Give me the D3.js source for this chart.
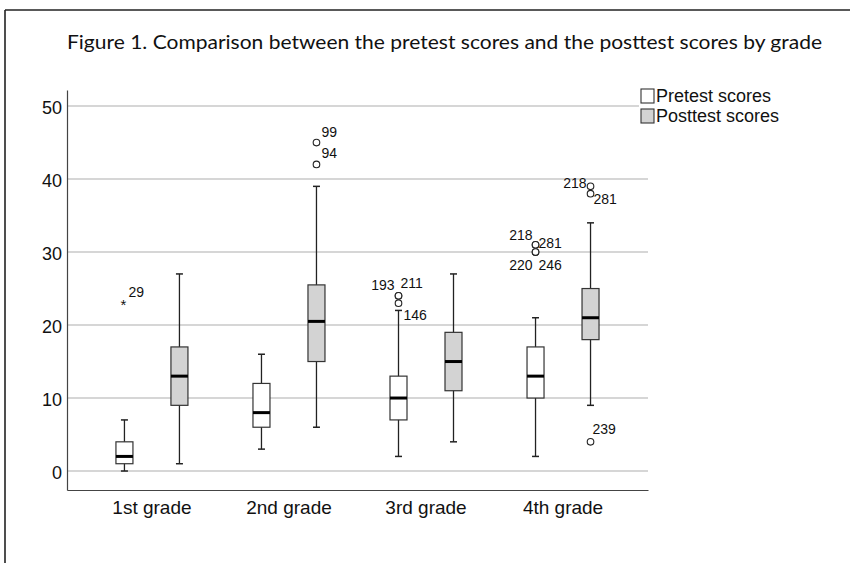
<!DOCTYPE html>
<html>
<head>
<meta charset="utf-8">
<script src="https://cdn.jsdelivr.net/npm/d3@7"></script>
<style>
  body { margin: 0; background: #fff; }
  text { font-family: "Liberation Sans", Arial, sans-serif; fill: #111; }
</style>
</head>
<body>
<svg id="chart" width="850" height="563"></svg>
<script>
// data
let grades = ["1st grade", "2nd grade", "3rd grade", "4th grade"];
let seriesNames = ["Pretest scores", "Posttest scores"];
let yTicks = [0, 10, 20, 30, 40, 50];

// pretest five-number summaries (whisker low, Q1, median, Q3, whisker high)
let preLow  = [0, 3, 2, 2];
let preQ1   = [1, 6, 7, 10];
let preMed  = [2, 8, 10, 13];
let preQ3   = [4, 12, 13, 17];
let preHigh = [7, 16, 22, 21];

// posttest
let postLow  = [1, 6, 4, 9];
let postQ1   = [9, 15, 11, 18];
let postMed  = [13, 20.5, 15, 21];
let postQ3   = [17, 25.5, 19, 25];
let postHigh = [27, 39, 27, 34];

// outliers: grade, series, value, case id, kind
let outGrade  = ["1st grade", "2nd grade", "2nd grade", "3rd grade", "3rd grade", "3rd grade", "4th grade", "4th grade", "4th grade", "4th grade", "4th grade", "4th grade", "4th grade"];
let outSeries = ["Pretest scores", "Posttest scores", "Posttest scores", "Pretest scores", "Pretest scores", "Pretest scores", "Pretest scores", "Pretest scores", "Pretest scores", "Pretest scores", "Posttest scores", "Posttest scores", "Posttest scores"];
let outValue  = [23, 45, 42, 24, 24, 23, 31, 31, 30, 30, 39, 38, 4];
let outId     = ["29", "99", "94", "193", "211", "146", "218", "281", "220", "246", "218", "281", "239"];
let outKind   = ["extreme", "o", "o", "o", "o", "o", "o", "o", "o", "o", "o", "o", "o"];

// label placement around the marker (style only)
let labelPlace = [
  [4, -6, "start"], [5, -6, "start"], [5, -6, "start"],
  [-4, -6, "end"], [2, -8, "start"], [5, 17, "start"],
  [-3, -5, "end"], [3, 3, "start"], [-3, 18, "end"], [3, 18, "start"],
  [-4, 2, "end"], [3, 10, "start"], [2, -8, "start"]
];

let svg = d3.select("#chart");

// frame of the figure
svg.append("line").attr("x1", 5).attr("x2", 850).attr("y1", 10).attr("y2", 10)
   .attr("stroke", "#222").attr("stroke-width", 1.6);
svg.append("line").attr("x1", 5).attr("x2", 5).attr("y1", 10).attr("y2", 563)
   .attr("stroke", "#222").attr("stroke-width", 1.6);

svg.append("text")
   .attr("x", 67).attr("y", 49)
   .attr("textLength", 755).attr("lengthAdjust", "spacingAndGlyphs")
   .style("font-family", "Lato, 'Open Sans', sans-serif")
   .style("font-size", "20px")
   .text("Figure 1. Comparison between the pretest scores and the posttest scores by grade");

let left = 67, right = 648;
let x = d3.scaleBand().domain(grades).range([left, right]).paddingInner(0).paddingOuter(0.12);
let xs = d3.scalePoint().domain(seriesNames).range([41, 96]);
let y = d3.scaleLinear().domain([-2.6, 52.2]).range([490, 90]);

// gridlines
svg.append("g").selectAll("line").data(yTicks).enter().append("line")
   .attr("x1", left).attr("x2", right)
   .attr("y1", d => y(d)).attr("y2", d => y(d))
   .attr("stroke", "#c9c9c9").attr("stroke-width", 1.5);

// axes
let yAxis = d3.axisLeft(y).tickValues(yTicks).tickSize(0).tickPadding(5);
let gy = svg.append("g").attr("transform", "translate(" + left + ",0)").call(yAxis);
gy.select(".domain").attr("stroke", "#444").attr("stroke-width", 1.2);
gy.selectAll("text").attr("dy", "0.42em")
  .style("font-size", "18px").style("font-family", "'Liberation Sans', Arial, sans-serif");

let xAxis = d3.axisBottom(x).tickSize(0).tickPadding(11);
let gx = svg.append("g").attr("transform", "translate(0," + y(-2.6) + ")").call(xAxis);
gx.select(".domain").attr("stroke", "#444").attr("stroke-width", 1.2);
gx.selectAll("text").style("font-size", "19px").style("font-family", "'Liberation Sans', Arial, sans-serif");

// boxes
let boxes = [];
grades.forEach(function(g, i) {
  boxes.push({ g: g, s: seriesNames[0], lo: preLow[i], q1: preQ1[i], med: preMed[i], q3: preQ3[i], hi: preHigh[i], fill: "#ffffff" });
  boxes.push({ g: g, s: seriesNames[1], lo: postLow[i], q1: postQ1[i], med: postMed[i], q3: postQ3[i], hi: postHigh[i], fill: "#d3d3d3" });
});

let bw = 17, cap = 7;
let bx = svg.append("g").selectAll("g").data(boxes).enter().append("g")
   .attr("transform", d => "translate(" + (x(d.g) + xs(d.s)) + ",0)");

bx.append("line").attr("x1", 0).attr("x2", 0)
  .attr("y1", d => y(d.hi)).attr("y2", d => y(d.lo))
  .attr("stroke", "#222").attr("stroke-width", 1.3);
bx.append("line").attr("x1", -cap / 2).attr("x2", cap / 2)
  .attr("y1", d => y(d.hi)).attr("y2", d => y(d.hi))
  .attr("stroke", "#222").attr("stroke-width", 1.5);
bx.append("line").attr("x1", -cap / 2).attr("x2", cap / 2)
  .attr("y1", d => y(d.lo)).attr("y2", d => y(d.lo))
  .attr("stroke", "#222").attr("stroke-width", 1.5);
bx.append("rect")
  .attr("x", -bw / 2).attr("width", bw)
  .attr("y", d => y(d.q3)).attr("height", d => y(d.q1) - y(d.q3))
  .attr("fill", d => d.fill).attr("stroke", "#333").attr("stroke-width", 1.2);
bx.append("line").attr("x1", -bw / 2).attr("x2", bw / 2)
  .attr("y1", d => y(d.med)).attr("y2", d => y(d.med))
  .attr("stroke", "#000").attr("stroke-width", 3);

// outliers
let outs = outValue.map(function(v, i) {
  return { g: outGrade[i], s: outSeries[i], v: v, id: outId[i], kind: outKind[i], place: labelPlace[i] };
});
let og = svg.append("g");
outs.forEach(function(d) {
  let cx = x(d.g) + xs(d.s), cy = y(d.v);
  if (d.kind === "extreme") {
    og.append("text").attr("x", cx - 1).attr("y", cy + 7).attr("text-anchor", "middle")
      .style("font-size", "15px").text("*");
  } else {
    og.append("circle").attr("cx", cx).attr("cy", cy).attr("r", 3.3)
      .attr("fill", "#fff").attr("stroke", "#222").attr("stroke-width", 1.1);
  }
  og.append("text").attr("x", cx + d.place[0]).attr("y", cy + d.place[1])
    .attr("text-anchor", d.place[2]).style("font-size", "14px").text(d.id);
});

// legend
let lg = svg.append("g");
lg.append("rect").attr("x", 639).attr("y", 86).attr("width", 200).attr("height", 42).attr("fill", "#fff");
let li = lg.selectAll("g").data(seriesNames).enter().append("g")
   .attr("transform", (d, i) => "translate(641," + (89 + i * 20) + ")");
li.append("rect").attr("width", 13).attr("height", 14)
  .attr("fill", (d, i) => i === 0 ? "#fff" : "#d3d3d3")
  .attr("stroke", "#333").attr("stroke-width", 1.1);
li.append("text").attr("x", 15).attr("y", 13).style("font-size", "18px").text(d => d);
</script>
</body>
</html>
